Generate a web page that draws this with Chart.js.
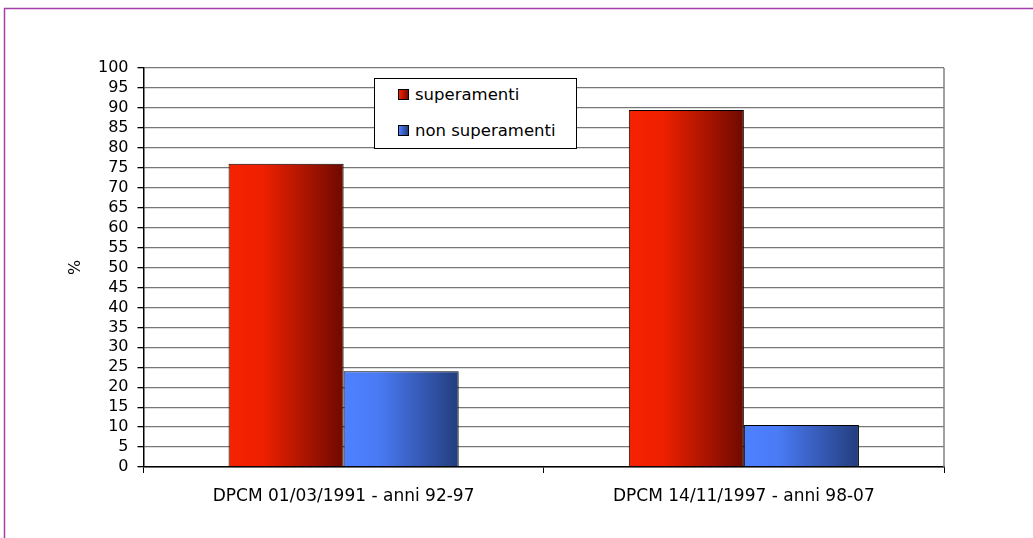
<!DOCTYPE html>
<html>
<head>
<meta charset="utf-8">
<script src="https://cdn.jsdelivr.net/npm/chart.js@4/dist/chart.umd.min.js"></script>
<style>
  html, body { margin: 0; padding: 0; background: #fff; }
  #wrap { position: relative; width: 1033px; height: 538px; }
  #legend {
    position: absolute; left: 374px; top: 78px; width: 201px; height: 69px;
    border: 1.5px solid #000; background: #fff;
    font-family: "DejaVu Sans", "Liberation Sans", Arial, sans-serif; font-size: 16.5px; color: #000;
  }
  .item { position: absolute; left: 23px; display: flex; align-items: center; }
  .sw { width: 9px; height: 9px; border: 1px solid #000; margin-right: 6px; }
</style>
</head>
<body>
<div id="wrap">
  <canvas id="c" width="1033" height="538"></canvas>
  <div id="legend">
    <div class="item" style="top:6px"><span class="sw" style="background:linear-gradient(90deg,#f52200,#7a0a00)"></span><span>superamenti</span></div>
    <div class="item" style="top:42px"><span class="sw" style="background:linear-gradient(90deg,#4f80ff,#25407f)"></span><span>non superamenti</span></div>
  </div>
</div>
<script>
// Periods compared
const categories = ['DPCM 01/03/1991 - anni 92-97', 'DPCM 14/11/1997 - anni 98-07'];
// Percentage of exceedances / non-exceedances per period
const superamenti = [76, 89.5];
const nonSuperamenti = [24, 10.5];
const seriesNames = ['superamenti', 'non superamenti'];
const yTickStep = 5;

const FONT = '"DejaVu Sans", "Liberation Sans", Arial, sans-serif';
const CAT_PCT = 0.575;

// Horizontal shading for each bar, light on the left to dark on the right
const shades = [
  ['#f52200', '#ee2000', '#6e0a00'],
  ['#4f80ff', '#4a7bf5', '#233d7d']
];

function barFill(ctx) {
  const chart = ctx.chart;
  const xs = chart.scales.x;
  const di = ctx.datasetIndex;
  if (!xs || !chart.chartArea || ctx.dataIndex === undefined) return shades[di][0];
  const n = chart.data.labels.length;
  const nds = chart.data.datasets.length;
  const group = (xs.right - xs.left) / n * CAT_PCT;
  const w = group / nds;
  const l = xs.getPixelForValue(ctx.dataIndex) - group / 2 + di * w;
  const g = chart.ctx.createLinearGradient(l, 0, l + w, 0);
  g.addColorStop(0, shades[di][0]);
  g.addColorStop(0.3, shades[di][1]);
  g.addColorStop(1, shades[di][2]);
  return g;
}

const frame = {
  id: 'frame',
  beforeDraw(chart) {
    const ctx = chart.ctx;
    ctx.save();
    ctx.strokeStyle = '#a23fa8';
    ctx.lineWidth = 1.5;
    ctx.strokeRect(4.5, 8.5, 1200, 700);
    ctx.restore();
  },
  afterDatasetsDraw(chart) {
    const { ctx, chartArea } = chart;
    ctx.save();
    ctx.strokeStyle = '#808080';
    ctx.lineWidth = 1.5;
    ctx.beginPath();
    ctx.moveTo(chartArea.right, chartArea.top);
    ctx.lineTo(chartArea.right, chartArea.bottom);
    ctx.stroke();
    ctx.restore();
  }
};

new Chart(document.getElementById('c'), {
  type: 'bar',
  data: {
    labels: categories,
    datasets: [
      { label: seriesNames[0], data: superamenti, borderColor: '#000', borderWidth: 1, backgroundColor: barFill },
      { label: seriesNames[1], data: nonSuperamenti, borderColor: '#000', borderWidth: 1, backgroundColor: barFill }
    ]
  },
  options: {
    responsive: false,
    animation: false,
    devicePixelRatio: 1,
    categoryPercentage: CAT_PCT,
    barPercentage: 1,
    layout: { padding: { left: 60, top: 68, right: 89, bottom: 0 } },
    plugins: { legend: { display: false }, tooltip: { enabled: false } },
    scales: {
      x: {
        grid: { display: true, drawOnChartArea: false, drawTicks: true, tickLength: 6, color: '#000', offset: true },
        border: { color: '#000', width: 1.5 },
        ticks: { color: '#000', font: { family: FONT, size: 17 }, padding: 13, maxRotation: 0 },
        afterFit(scale) { scale.height = 71; }
      },
      y: {
        min: 0, max: 100,
        ticks: { stepSize: yTickStep, autoSkip: false, color: '#000', font: { family: FONT, size: 16 }, padding: 9 },
        grid: { color: '#777777', lineWidth: 1.3, tickLength: 6, tickColor: '#000' },
        border: { color: '#000', width: 1.5 },
        title: { display: true, text: '%', color: '#000', font: { family: FONT, size: 16 }, padding: { top: 6, bottom: 0 } },
        afterFit(scale) { scale.width = 83.5; }
      }
    }
  },
  plugins: [frame]
});
</script>
</body>
</html>
